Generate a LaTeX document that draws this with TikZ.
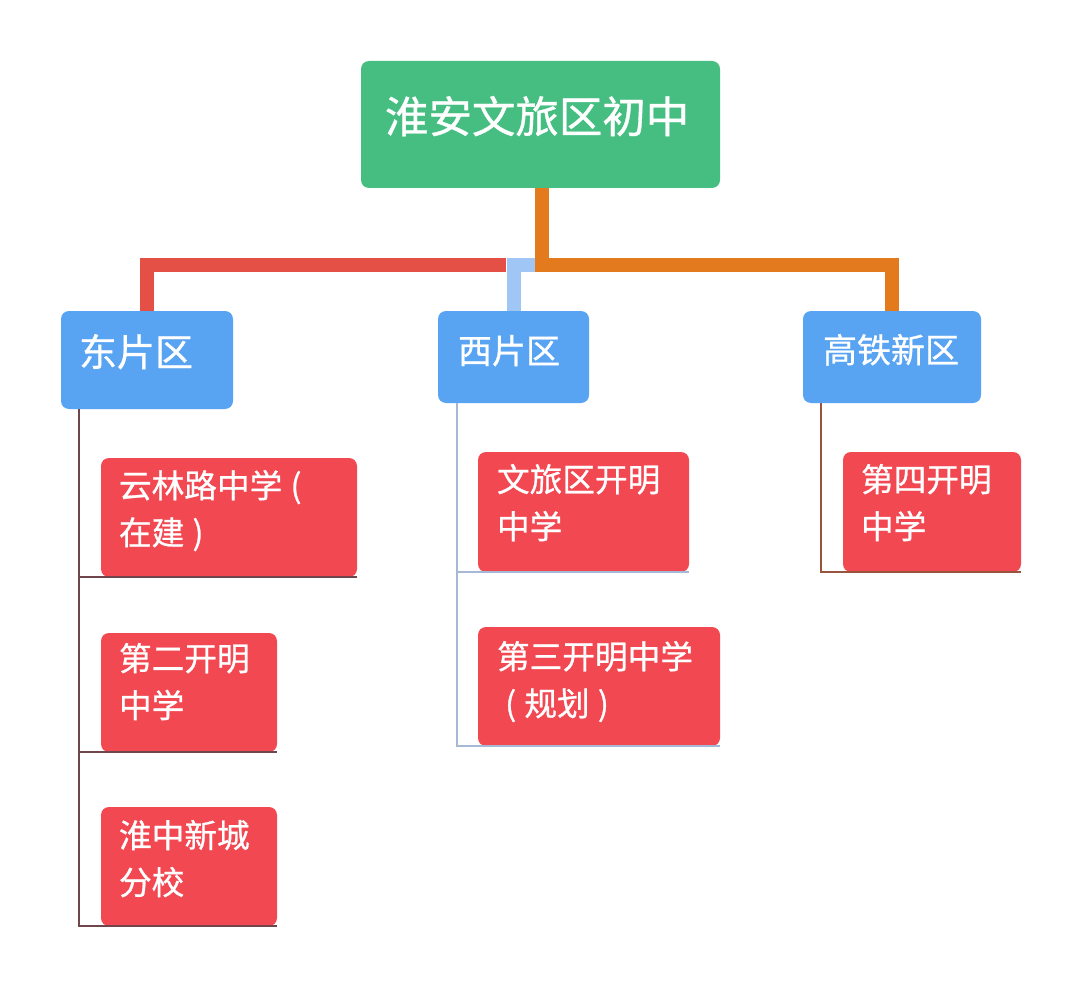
\documentclass[tikz,border=0pt]{standalone}
\usepackage{fontspec}
\newfontfamily\cjk[FakeBold=0.8]{Noto Sans CJK SC}
\definecolor{rootgreen}{RGB}{70,190,130}
\definecolor{areablue}{RGB}{88,163,242}
\definecolor{schoolred}{RGB}{242,72,82}
\definecolor{eastline}{RGB}{228,80,70}
\definecolor{westline}{RGB}{160,198,245}
\definecolor{hsrline}{RGB}{228,122,30}
\definecolor{easttrunk}{RGB}{110,70,75}
\definecolor{westtrunk}{RGB}{165,185,215}
\definecolor{hsrtrunk}{RGB}{150,85,60}

\begin{document}
\begin{tikzpicture}[x=0.75pt, y=-0.75pt,
    box/.style={rectangle, rounded corners=6pt, inner sep=0pt, outer sep=0pt, anchor=north west},
    rootbox/.style={box, fill=rootgreen, minimum width=269.25pt, minimum height=95.25pt},
    areabox/.style={box, fill=areablue, minimum height=69pt},
    schoolbox/.style={box, fill=schoolred, minimum height=89.25pt},
    label/.style={inner sep=0pt, outer sep=0pt, anchor=north west, text=white, align=left},
    roottext/.style={label, font=\cjk\fontsize{32.6pt}{40pt}\selectfont},
    areatext/.style={label, font=\cjk\fontsize{25.5pt}{32pt}\selectfont},
    schooltext/.style={label, font=\cjk\fontsize{24.5pt}{35.25pt}\selectfont},
    bus/.style={line width=10.5pt, line join=miter},
    trunk/.style={line width=1.1pt}]

\fill[white] (0,0) rectangle (1082,988);

\node (root)[rootbox] at (361, 61) {};
\node (roott)[roottext] at (385, 96) {淮安文旅区初中};

\node (E)[areabox, minimum width=129pt, minimum height=73.5pt] at (61, 311) {};
\node (W)[areabox, minimum width=113.25pt] at (438, 311) {};
\node (H)[areabox, minimum width=133.5pt] at (803, 311) {};
\node (Et)[areatext, font=\cjk\fontsize{28.5pt}{32pt}\selectfont] at (79, 334) {东片区};
\node (Wt)[areatext] at (458, 335) {西片区};
\node (Ht)[areatext] at (823, 334) {高铁新区};

\node (e1)[schoolbox, minimum width=192pt] at (101, 458) {};
\node (e2)[schoolbox, minimum width=132pt] at (101, 633) {};
\node (e3)[schoolbox, minimum width=132pt] at (101, 807) {};
\node (w1)[schoolbox, minimum width=158.25pt, minimum height=90pt] at (478, 452) {};
\node (w2)[schoolbox, minimum width=181.5pt] at (478, 627) {};
\node (h1)[schoolbox, minimum width=133.5pt, minimum height=90pt] at (843, 452) {};

\node (e1t)[schooltext] at (119, 470) {云林路中学\hspace{0.25em}(\\在建\hspace{0.25em})};
\node (e2t)[schooltext] at (119, 643) {第二开明\\中学};
\node (e3t)[schooltext] at (119, 820) {淮中新城\\分校};
\node (w1t)[schooltext] at (497, 464) {文旅区开明\\中学};
\node (w2t)[schooltext] at (497, 641) {第三开明中学\\\hspace{0.25em}(\hspace{0.25em}规划\hspace{0.25em})};
\node (h1t)[schooltext] at (861, 464) {第四开明\\中学};

\coordinate (J) at (542, 264.5);
\coordinate (JE) at (506, 264.5);
\coordinate (JW) at (536, 264.5);

\draw [bus, draw=eastline] (JE) -| (E.north);
\draw [bus, draw=westline] (JW) -| (W.north);
\draw [bus, draw=hsrline] (root.south -| J) -- (J) -| (H.north);

\draw [trunk, draw=easttrunk] ([shift={(18,0)}]E.south west) |- (e1.south east);
\draw [trunk, draw=easttrunk] ([shift={(18,0)}]E.south west) |- (e2.south east);
\draw [trunk, draw=easttrunk] ([shift={(18,0)}]E.south west) |- (e3.south east);
\draw [trunk, draw=westtrunk] ([shift={(19,0)}]W.south west) |- (w1.south east);
\draw [trunk, draw=westtrunk] ([shift={(19,0)}]W.south west) |- (w2.south east);
\draw [trunk, draw=hsrtrunk] ([shift={(18,0)}]H.south west) |- (h1.south east);
\end{tikzpicture}
\end{document}
